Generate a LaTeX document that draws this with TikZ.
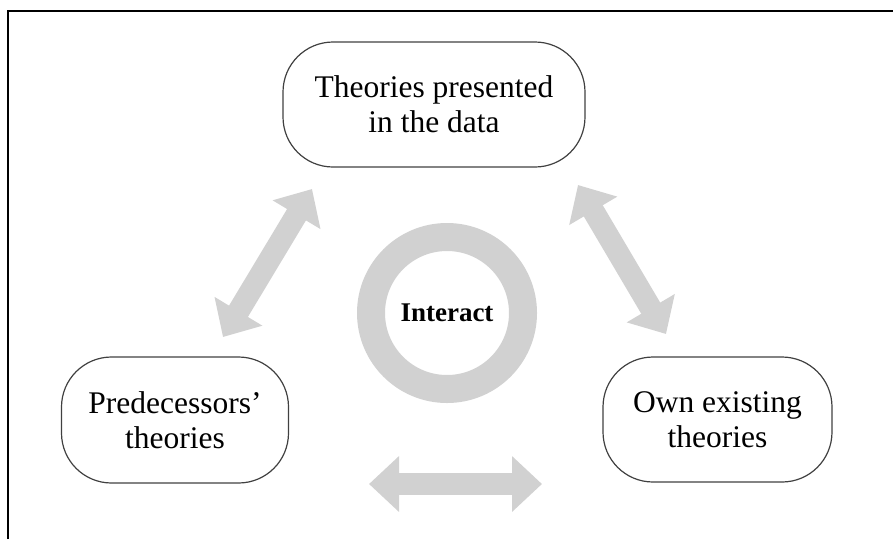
\documentclass[tikz,border=0pt]{standalone}
\usepackage{fontspec}
\setmainfont{Liberation Serif}
\usetikzlibrary{arrows.meta}
\definecolor{arrowgray}{gray}{0.82}
\tikzset{
  theorybox/.style={draw=black!75, line width=1.2pt, rounded corners=50pt, align=center,
    font=\fontsize{31.5}{35}\selectfont, inner sep=0pt},
  bigarrow/.style={draw=arrowgray, line width=22pt,
    {Triangle[width=54pt,length=30pt]}-{Triangle[width=54pt,length=30pt]}},
  frameline/.style={line width=2pt, black}
}
\begin{document}
\begin{tikzpicture}[x=1pt,y=-1pt]
\useasboundingbox (0,0) rectangle (893,539);
% frame (left and top edges only)
\draw[frameline] (8,539) -- (8,11) -- (893,11);
% boxes
\node[theorybox, minimum width=302pt, minimum height=125pt] (top) at (434,104.5) {Theories presented\\in the data};
\node[theorybox, minimum width=227pt, minimum height=126pt] (left) at (175,420) {Predecessors'\\theories};
\node[theorybox, minimum width=229pt, minimum height=125pt] (right) at (717.5,419.5) {Own existing\\theories};
% ring
\node[circle, draw=arrowgray, line width=28pt, minimum size=152pt, inner sep=0pt,
  font=\bfseries\fontsize{27}{32}\selectfont] (ring) at (447,313) {Interact};
% arrow end points
\coordinate (l1) at (312,189);
\coordinate (l2) at (223,337);
\coordinate (r1) at (578,185);
\coordinate (r2) at (666,334);
\coordinate (b1) at (369,484);
\coordinate (b2) at (542,484);
\draw[bigarrow] (l1) -- (l2);
\draw[bigarrow] (r1) -- (r2);
\draw[bigarrow] (b1) -- (b2);
\end{tikzpicture}
\end{document}
